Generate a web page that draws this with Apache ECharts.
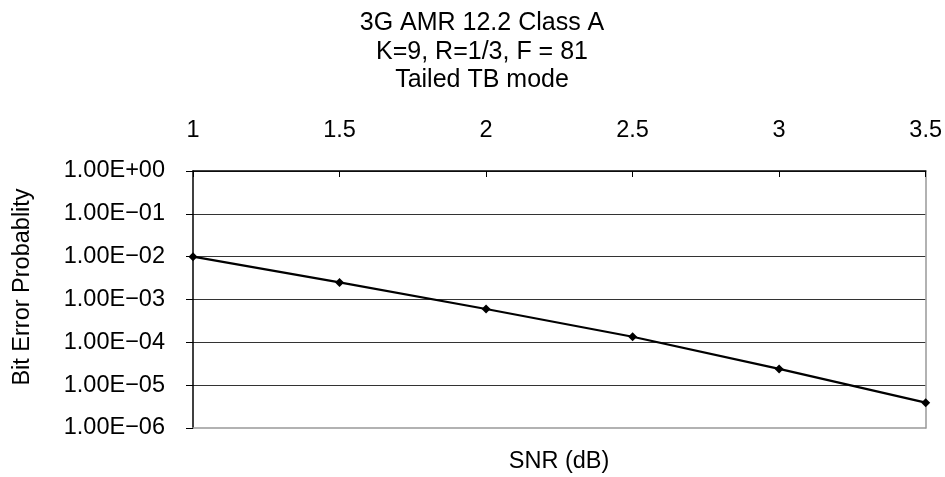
<!DOCTYPE html>
<html><head><meta charset="utf-8">
<script src="https://cdn.jsdelivr.net/npm/echarts@6/dist/echarts.min.js"></script>
<style>html,body{margin:0;padding:0;background:#fff}#c{width:945px;height:477px}</style>
</head><body><div id="c"></div>
<script>
const snr = [1, 1.5, 2, 2.5, 3, 3.5];
const ber = [1.0e-2, 2.5e-3, 6.0e-4, 1.35e-4, 2.4e-5, 3.9e-6];
const titleLines = ['3G AMR 12.2 Class A', 'K=9, R=1/3, F = 81', 'Tailed TB mode'];
const xName = 'SNR (dB)';
const yName = 'Bit Error Probablity';

function fmtE(v) {
  const e = Math.round(Math.log10(v));
  const m = v / Math.pow(10, e);
  const s = e < 0 ? '\u2212' : '+';
  const a = Math.abs(e);
  return m.toFixed(2) + 'E' + s + (a < 10 ? '0' + a : '' + a);
}

const font = 'Liberation Sans, Arial, sans-serif';
const fs = 23.5;
const chart = echarts.init(document.getElementById('c'));
chart.setOption({
  animation: false,
  textStyle: { fontFamily: font },
  title: {
    text: titleLines.join('\n'),
    left: 477, top: 4, textAlign: 'center',
    textStyle: { fontFamily: font, fontSize: 25, fontWeight: 'normal', color: '#000', lineHeight: 28.5 }
  },
  grid: { left: 193, right: 18, top: 171, bottom: 49 },
  graphic: [{
    type: 'text', x: 23, y: 287, rotation: Math.PI / 2,
    style: { text: yName, font: fs + 'px ' + font, fill: '#000', align: 'center', verticalAlign: 'middle' }
  }, {
    type: 'text', x: 559, y: 462,
    style: { text: xName, font: fs + 'px ' + font, fill: '#000', align: 'center', verticalAlign: 'middle' }
  }],
  xAxis: [{
    type: 'value', position: 'top', min: 1, max: 3.5, interval: 0.5,
    axisLine: { show: true, lineStyle: { color: '#000', width: 1.5 } },
    axisTick: { show: true, inside: true, length: 6, lineStyle: { color: '#000' } },
    axisLabel: { fontFamily: font, fontSize: fs, color: '#000', margin: 28 },
    splitLine: { show: false }
  }, {
    type: 'value', position: 'bottom', min: 1, max: 3.5, interval: 0.5,
    axisLine: { show: true, lineStyle: { color: '#999', width: 1.5 } },
    axisTick: { show: false }, axisLabel: { show: false }, splitLine: { show: false }
  }],
  yAxis: [{
    type: 'log', logBase: 10, min: 1e-6, max: 1,
    axisLine: { show: true, lineStyle: { color: '#000', width: 1.5 } },
    axisTick: { show: true, inside: false, length: 7, lineStyle: { color: '#000' } },
    axisLabel: { fontFamily: font, fontSize: fs, color: '#000', margin: 28, formatter: fmtE },
    splitLine: { show: true, showMinLine: false, lineStyle: { color: '#333', width: 1.2 } }
  }, {
    type: 'log', logBase: 10, min: 1e-6, max: 1, position: 'right',
    axisLine: { show: true, lineStyle: { color: '#999', width: 1.5 } },
    axisTick: { show: false }, axisLabel: { show: false }, splitLine: { show: false }
  }],
  series: [{
    type: 'line',
    data: snr.map((x, i) => [x, ber[i]]),
    symbol: 'diamond', symbolSize: 9,
    lineStyle: { color: '#000', width: 2.2 },
    itemStyle: { color: '#000' }
  }]
});
</script></body></html>
